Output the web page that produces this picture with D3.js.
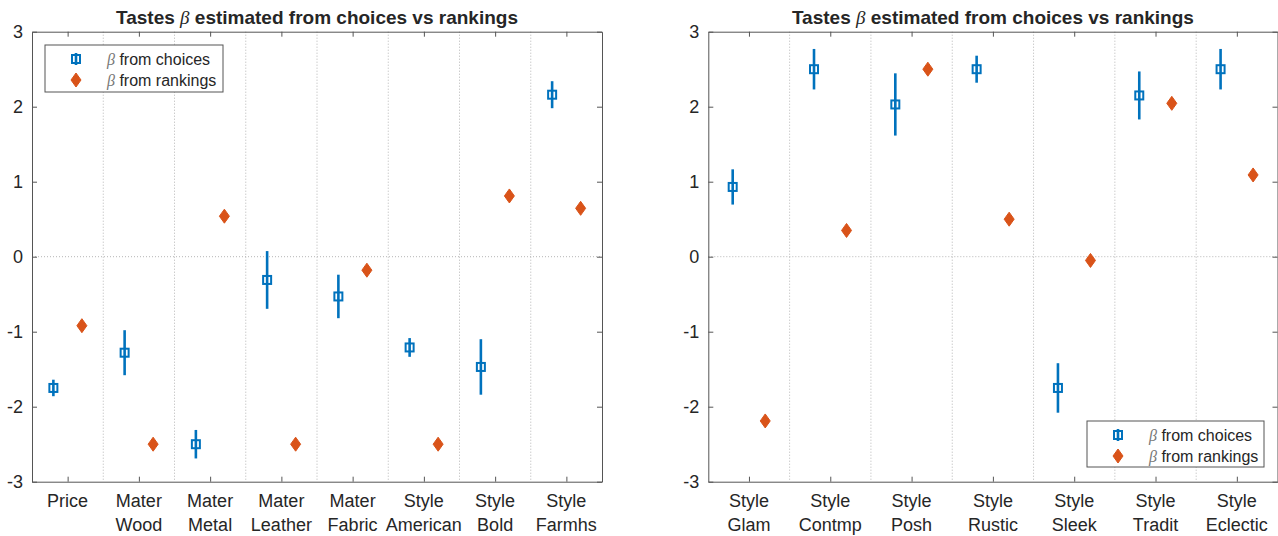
<!DOCTYPE html>
<html>
<head>
<meta charset="utf-8">
<script src="https://cdn.jsdelivr.net/npm/d3@7"></script>
<style>
  html, body { margin: 0; padding: 0; background: #fff; }
  svg { display: block; }
  text { font-family: "Liberation Sans", Arial, Helvetica, sans-serif; fill: #262626; }
</style>
</head>
<body>
<svg id="chart" width="1278" height="536"></svg>
<script>
// Left panel: price, materials and first styles
const leftCategories = [["Price"], ["Mater", "Wood"], ["Mater", "Metal"], ["Mater", "Leather"],
  ["Mater", "Fabric"], ["Style", "American"], ["Style", "Bold"], ["Style", "Farmhs"]];
const leftChoices   = [-1.75, -1.28, -2.50, -0.31, -0.53, -1.21, -1.47, 2.16];
const leftChoiceErr = [0.11, 0.30, 0.19, 0.385, 0.29, 0.125, 0.37, 0.18];
const leftRankings  = [-0.92, -2.50, 0.54, -2.50, -0.18, -2.50, 0.81, 0.645];

// Right panel: remaining styles
const rightCategories = [["Style", "Glam"], ["Style", "Contmp"], ["Style", "Posh"], ["Style", "Rustic"],
  ["Style", "Sleek"], ["Style", "Tradit"], ["Style", "Eclectic"]];
const rightChoices   = [0.93, 2.50, 2.03, 2.50, -1.75, 2.15, 2.50];
const rightChoiceErr = [0.235, 0.27, 0.415, 0.18, 0.33, 0.32, 0.27];
const rightRankings  = [-2.19, 0.35, 2.50, 0.50, -0.05, 2.045, 1.09];

const yTicks = [-3, -2, -1, 0, 1, 2, 3];
const titleText = "estimated from choices vs rankings";
const legendLabels = ["from choices", "from rankings"];

const BLUE = "#0072BD", ORANGE = "#D95319", AXIS = "#555555", GRID = "#b5b5b5";

const svg = d3.select("#chart");

function drawPanel(cfg) {
  const { x0, x1, y0, y1, cats, choices, err, ranks, legendPos } = cfg;
  const n = cats.length;
  const x = d3.scaleLinear().domain([0.5, n + 0.5]).range([x0, x1]);
  const y = d3.scaleLinear().domain([-3, 3]).range([y1, y0]);
  const g = svg.append("g");
  const idx = d3.range(1, n + 1);

  // dotted separators between categories and the zero line
  g.selectAll("line.vgrid").data(d3.range(1.5, n, 1)).join("line")
    .attr("x1", d => x(d)).attr("x2", d => x(d))
    .attr("y1", y(3)).attr("y2", y(-3))
    .attr("stroke", GRID).attr("stroke-width", 1).attr("stroke-dasharray", "1,2");
  g.append("line")
    .attr("x1", x(0.5)).attr("x2", x(n + 0.5)).attr("y1", y(0)).attr("y2", y(0))
    .attr("stroke", GRID).attr("stroke-width", 1).attr("stroke-dasharray", "1,2");

  // axes box with inward ticks on all four sides
  const axB = d3.axisBottom(x).tickValues(idx).tickSizeInner(-5).tickSizeOuter(0).tickFormat("");
  const axT = d3.axisTop(x).tickValues(idx).tickSizeInner(-5).tickSizeOuter(0).tickFormat("");
  const axL = d3.axisLeft(y).tickValues(yTicks).tickSizeInner(-5).tickSizeOuter(0).tickPadding(9);
  const axR = d3.axisRight(y).tickValues(yTicks).tickSizeInner(-5).tickSizeOuter(0).tickFormat("");
  const gB = g.append("g").attr("transform", `translate(0,${y(-3)})`).call(axB);
  const gT = g.append("g").attr("transform", `translate(0,${y(3)})`).call(axT);
  const gL = g.append("g").attr("transform", `translate(${x(0.5)},0)`).call(axL);
  const gR = g.append("g").attr("transform", `translate(${x(n + 0.5)},0)`).call(axR);
  [gB, gT, gL, gR].forEach(a => {
    a.selectAll("path").attr("stroke", AXIS).attr("stroke-width", 1);
    a.selectAll("line").attr("stroke", AXIS).attr("stroke-width", 1);
  });
  gL.selectAll("text").attr("font-size", 18).attr("fill", "#262626")
    .attr("font-family", "Liberation Sans, Arial, sans-serif")
    .text(d => d < 0 ? "-" + Math.abs(d) : d);

  // two-line category labels
  const lab = g.selectAll("text.cat").data(cats).join("text")
    .attr("class", "cat")
    .attr("x", (d, i) => x(i + 1)).attr("y", y(-3) + 25)
    .attr("text-anchor", "middle").attr("font-size", 18);
  lab.selectAll("tspan").data(d => d).join("tspan")
    .attr("x", function () { return d3.select(this.parentNode).attr("x"); })
    .attr("dy", (d, i) => i === 0 ? 0 : 24)
    .text(d => d);

  // title
  const t = g.append("text")
    .attr("x", (x0 + x1) / 2).attr("y", 24)
    .attr("text-anchor", "middle").attr("font-size", 19).attr("font-weight", "bold");
  t.append("tspan").text("Tastes ");
  t.append("tspan").attr("font-family", "Liberation Serif, Times New Roman, serif")
    .attr("font-style", "italic").attr("font-weight", "normal").text("β");
  t.append("tspan").text(" " + titleText);

  // choice estimates: error bars and hollow squares
  const off = 0.2, sq = 8;
  g.selectAll("line.err").data(choices).join("line")
    .attr("x1", (d, i) => x(i + 1 - off)).attr("x2", (d, i) => x(i + 1 - off))
    .attr("y1", (d, i) => y(d + err[i])).attr("y2", (d, i) => y(d - err[i]))
    .attr("stroke", BLUE).attr("stroke-width", 2.6);
  g.selectAll("rect.sq").data(choices).join("rect")
    .attr("x", (d, i) => x(i + 1 - off) - sq / 2).attr("y", d => y(d) - sq / 2)
    .attr("width", sq).attr("height", sq)
    .attr("fill", "none").attr("stroke", BLUE).attr("stroke-width", 2);

  // ranking estimates: filled diamonds
  const diamond = (cx, cy) => `M${cx},${cy - 7}L${cx + 5},${cy}L${cx},${cy + 7}L${cx - 5},${cy}Z`;
  g.selectAll("path.dia").data(ranks).join("path")
    .attr("d", (d, i) => diamond(x(i + 1 + off), y(d)))
    .attr("fill", ORANGE).attr("stroke", ORANGE).attr("stroke-width", 1);

  // legend
  const L = legendPos;
  const lg = g.append("g").attr("transform", `translate(${L.x},${L.y})`);
  lg.append("rect").attr("width", L.w).attr("height", L.h)
    .attr("fill", "#fff").attr("stroke", AXIS).attr("stroke-width", 1);
  const rowY = [14, 35];
  const mx = 31;
  lg.append("line").attr("x1", mx).attr("x2", mx).attr("y1", rowY[0] - 6).attr("y2", rowY[0] + 6)
    .attr("stroke", BLUE).attr("stroke-width", 2.6);
  lg.append("rect").attr("x", mx - sq / 2).attr("y", rowY[0] - sq / 2).attr("width", sq).attr("height", sq)
    .attr("fill", "none").attr("stroke", BLUE).attr("stroke-width", 2);
  lg.append("path").attr("d", diamond(mx, rowY[1])).attr("fill", ORANGE).attr("stroke", ORANGE);
  legendLabels.forEach((s, i) => {
    const tx = lg.append("text").attr("x", 62).attr("y", rowY[i] + 5.5).attr("font-size", 16);
    tx.append("tspan").attr("font-family", "Liberation Serif, Times New Roman, serif")
      .attr("font-style", "italic").attr("fill", "#777").text("β");
    tx.append("tspan").text(" " + s);
  });
}

drawPanel({
  x0: 32, x1: 602, y0: 31.7, y1: 481.7,
  cats: leftCategories, choices: leftChoices, err: leftChoiceErr, ranks: leftRankings,
  legendPos: { x: 45, y: 45, w: 178, h: 47 }
});
drawPanel({
  x0: 708.3, x1: 1277.5, y0: 31.7, y1: 481.7,
  cats: rightCategories, choices: rightChoices, err: rightChoiceErr, ranks: rightRankings,
  legendPos: { x: 1087, y: 421, w: 177, h: 46 }
});
</script>
</body>
</html>
